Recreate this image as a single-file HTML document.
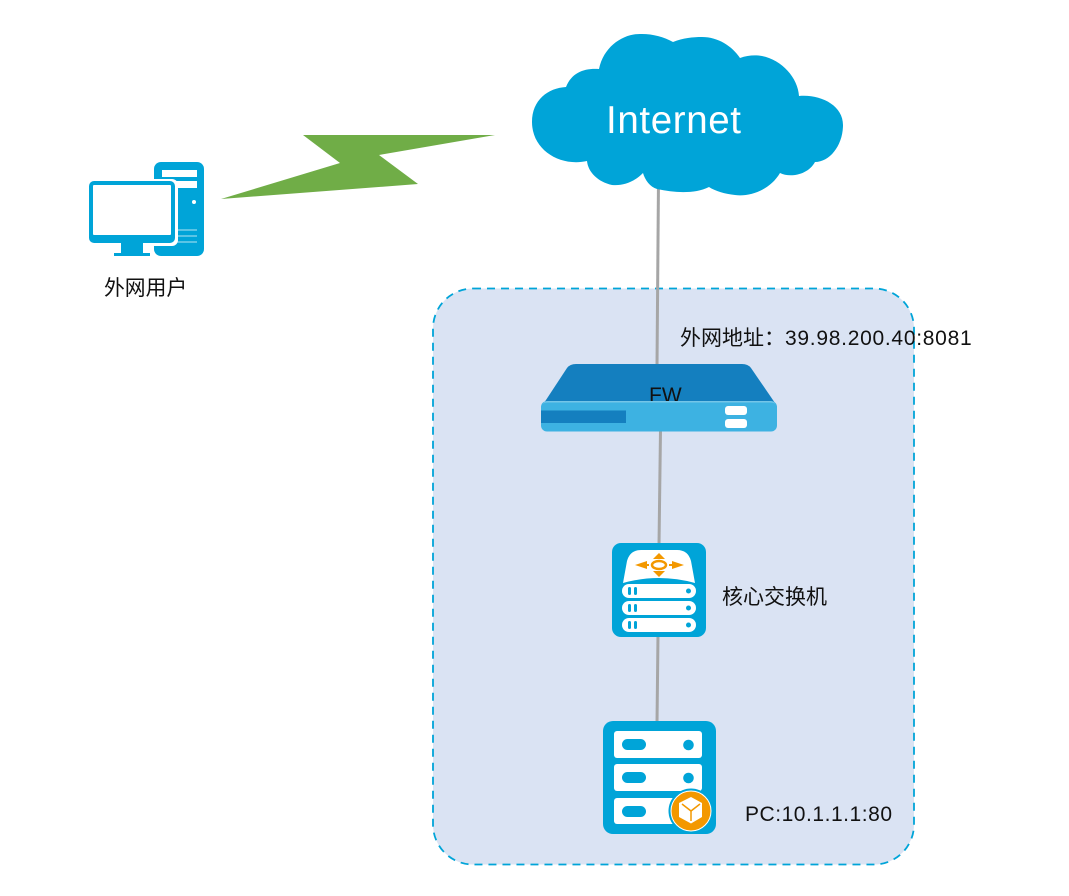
<!DOCTYPE html>
<html><head><meta charset="utf-8"><style>
html,body{margin:0;padding:0;background:#fff}
svg{display:block}
text{font-family:"Liberation Sans","Noto Sans CJK SC",sans-serif;fill:#111}
</style></head><body>
<svg width="1069" height="896" viewBox="0 0 1069 896" xmlns="http://www.w3.org/2000/svg">
<rect x="433" y="288.500" width="481" height="576" rx="40" fill="#dae3f3" stroke="#00a4d8" stroke-width="1.800" stroke-dasharray="8 6"/>
<g stroke="#a6a6a6" stroke-width="3" fill="none">
<line x1="658.500" y1="180" x2="657" y2="366"/>
<line x1="660.500" y1="430" x2="659" y2="545"/>
<line x1="658" y1="635" x2="657" y2="723"/>
</g>
<polygon points="221,199 340,163 303,135 495,135 379,155 418,184" fill="#70ad47"/>
<path d="M599 69C604 45 625 33 642 34C653 34 664 37 673 42C683 38 693 37 702 37C718 37 732 46 740 58C748 55 756 55 762 56C782 60 798 78 799 96C820 94 843 105 843 125C843 145 830 162 815 162C808 175 790 178 780 173C770 190 750 197 735 195C725 194 715 191 709 187C695 194 675 193 657 189C650 187 645 180 643 173C633 183 622 186 612 185C598 182 588 172 587 161C560 167 532 150 532 122C532 100 548 88 566 87C572 72 585 68 599 69Z" fill="#00a4d8"/>
<text x="606" y="133" font-size="38.500" textLength="135" lengthAdjust="spacing" style="fill:#fff">Internet</text>

<!-- PC user -->
<rect x="154" y="162" width="50" height="94" rx="7" fill="#00a4d8"/>
<rect x="162" y="170" width="35" height="7" fill="#fff"/>
<rect x="162" y="181" width="35" height="7" fill="#fff"/>
<circle cx="194" cy="202" r="2" fill="#fff"/>
<g stroke="#b5e3f2" stroke-width="1"><line x1="177" y1="230" x2="197" y2="230"/><line x1="177" y1="236" x2="197" y2="236"/><line x1="177" y1="242" x2="197" y2="242"/></g>
<rect x="88" y="179" width="90" height="67" rx="6" fill="#fff"/>
<rect x="121" y="242" width="22" height="12" fill="#00a4d8"/>
<rect x="114" y="253" width="36" height="3" fill="#00a4d8"/>
<rect x="89" y="181" width="86" height="62" rx="5" fill="#00a4d8"/>
<rect x="93" y="185" width="78" height="50" rx="1" fill="#fff"/>
<text x="104" y="295" font-size="20.800">外网用户</text>

<!-- FW -->
<path d="M544 403L567 368Q570 364 576 364H742Q748 364 751 368L775 403Z" fill="#147fbf"/>
<text x="649" y="402" font-size="21">FW</text>
<rect x="541" y="401" width="236" height="30.500" rx="6" fill="#3db2e2"/>
<path d="M543 404Q544 401 548 401H770Q774 401 775 404Q774 402.500 770 402.500H548Q544 402.500 543 404Z" fill="#74c5e8"/>
<path d="M541 410.500H626V423H541Z" fill="#147fbf"/>
<rect x="725" y="406" width="22" height="9" rx="3" fill="#fff"/>
<rect x="725" y="419" width="22" height="9" rx="3" fill="#fff"/>
<text x="680" y="345" font-size="21"><tspan>外网地址：</tspan><tspan x="785" textLength="187" letter-spacing="0.350">39.98.200.40:8081</tspan></text>

<!-- switch -->
<rect x="612" y="543" width="94" height="94" rx="9" fill="#00a4d8"/>
<path d="M623 583L627 561Q630 550 641 550H677Q688 550 691 561L695 583Q659 573 623 583Z" fill="#fff"/>
<g fill="#fff">
<rect x="622" y="584" width="74" height="14" rx="7"/>
<rect x="622" y="601" width="74" height="14" rx="7"/>
<rect x="622" y="618" width="74" height="14" rx="7"/>
</g>
<g fill="#00a4d8">
<rect x="628" y="587" width="3" height="8" rx="1.500"/><rect x="634" y="587" width="3" height="8" rx="1.500"/><circle cx="688.500" cy="591" r="2.500"/>
<rect x="628" y="604" width="3" height="8" rx="1.500"/><rect x="634" y="604" width="3" height="8" rx="1.500"/><circle cx="688.500" cy="608" r="2.500"/>
<rect x="628" y="621" width="3" height="8" rx="1.500"/><rect x="634" y="621" width="3" height="8" rx="1.500"/><circle cx="688.500" cy="625" r="2.500"/>
</g>
<g fill="#f39800">
<polygon points="659,553 665,559 653,559"/><polygon points="659,577 665,571 653,571"/>
<polygon points="635,565 647,561 647,564 649,564 649,566 647,566 647,569"/>
<polygon points="684,565 672,561 672,564 669,564 669,566 672,566 672,569"/>
</g>
<ellipse cx="659" cy="565" rx="7" ry="4" fill="none" stroke="#f39800" stroke-width="2.500"/>
<text x="722" y="604" font-size="21">核心交换机</text>

<!-- server -->
<rect x="603" y="721" width="113" height="113" rx="10" fill="#00a4d8"/>
<g fill="#fff">
<rect x="614" y="731" width="88" height="27" rx="3"/>
<rect x="614" y="764" width="88" height="27" rx="3"/>
<rect x="614" y="798" width="88" height="26" rx="3"/>
</g>
<g fill="#00a4d8">
<rect x="622" y="739" width="24" height="11" rx="5.500"/><circle cx="688.500" cy="745" r="5.300"/>
<rect x="622" y="772" width="24" height="11" rx="5.500"/><circle cx="688.500" cy="778" r="5.300"/>
<rect x="622" y="806" width="24" height="11" rx="5.500"/>
<circle cx="691" cy="811" r="22.500"/>
</g>
<circle cx="691" cy="811" r="20" fill="#f39800" stroke="#fff" stroke-width="1"/>
<polygon points="691,797 702,803 702,817 691,823.500 679,817 679,803" fill="#fff"/>
<path d="M682 804L691 811L700 804M691 811V821" stroke="#f39800" stroke-width="1.500" fill="none"/>
<text x="745" y="821" font-size="21" textLength="147" lengthAdjust="spacing">PC:10.1.1.1:80</text>
</svg>
</body></html>
